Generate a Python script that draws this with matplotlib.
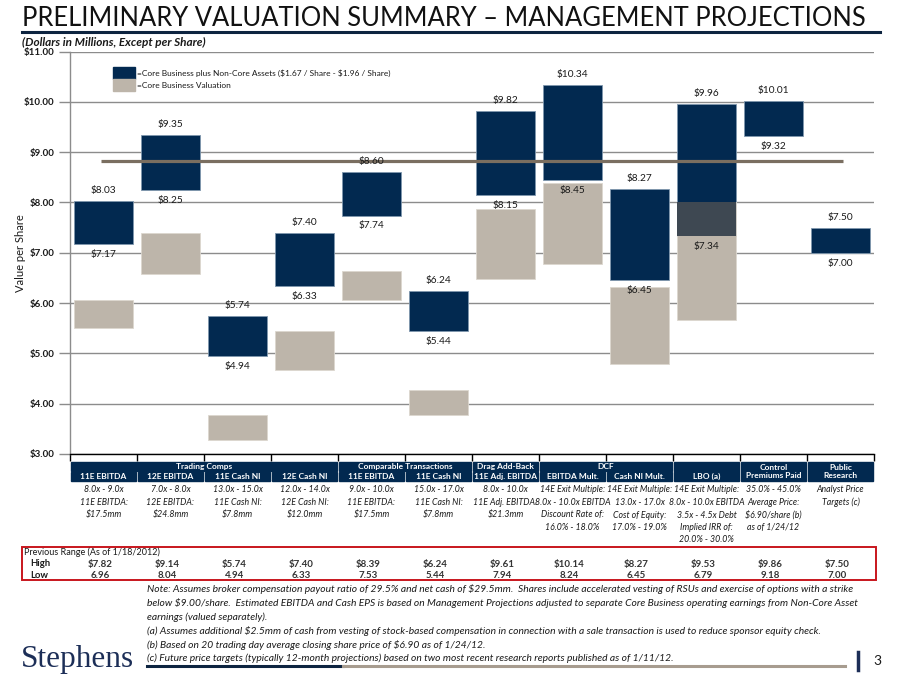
import matplotlib
matplotlib.use("Agg")
import matplotlib.pyplot as plt
from matplotlib.patches import Rectangle
from matplotlib.transforms import blended_transform_factory
from matplotlib.lines import Line2D

plt.rcParams['font.family'] = ['Lato', 'DejaVu Sans']
plt.rcParams['text.parse_math'] = False

# ---------------- data ----------------
categories = ["11E EBITDA", "12E EBITDA", "11E Cash NI", "12E Cash NI", "11E EBITDA",
              "11E Cash NI", "11E Adj. EBITDA", "EBITDA Mult.", "Cash NI Mult.", "LBO",
              "Control Premiums Paid", "Public Research"]
total_low = [7.17, 8.25, 4.94, 6.33, 7.74, 5.44, 8.15, 8.45, 6.45, 7.34, 9.32, 7.00]
total_high = [8.03, 9.35, 5.74, 7.40, 8.60, 6.24, 9.82, 10.34, 8.27, 9.96, 10.01, 7.50]
core_low = [5.50, 6.58, 3.27, 4.66, 6.07, 3.77, 6.48, 6.78, 4.78, 5.67, None, None]
core_high = [6.07, 7.39, 3.78, 5.44, 6.64, 4.28, 7.86, 8.38, 6.31, 8.00, None, None]
reference_price = 8.83

prev_high = ["$7.82", "$9.14", "$5.74", "$7.40", "$8.39", "$6.24", "$9.61", "$10.14",
             "$8.27", "$9.53", "$9.86", "$7.50"]
prev_low = ["6.96", "8.04", "4.94", "6.33", "7.53", "5.44", "7.94", "8.24", "6.45",
            "6.79", "9.18", "7.00"]

group_headers = [(0, 3, "Trading Comps"), (4, 5, "Comparable Transactions"),
                 (6, 6, "Drag Add-Back"), (7, 8, "DCF")]
sub_headers = ["11E EBITDA", "12E EBITDA", "11E Cash NI", "12E Cash NI", "11E EBITDA",
               "11E Cash NI", "11E Adj. EBITDA", "EBITDA Mult.", "Cash NI Mult."]
tall_headers = {9: "LBO (a)", 10: "Control\nPremiums Paid", 11: "Public\nResearch"}
descriptions = [
    ["8.0x - 9.0x", "11E EBITDA:", "$17.5mm"],
    ["7.0x - 8.0x", "12E EBITDA:", "$24.8mm"],
    ["13.0x - 15.0x", "11E Cash NI:", "$7.8mm"],
    ["12.0x - 14.0x", "12E Cash NI:", "$12.0mm"],
    ["9.0x - 10.0x", "11E EBITDA:", "$17.5mm"],
    ["15.0x - 17.0x", "11E Cash NI:", "$7.8mm"],
    ["8.0x - 10.0x", "11E Adj. EBITDA:", "$21.3mm"],
    ["14E Exit Multiple:", "8.0x - 10.0x EBITDA", "Discount Rate of:", "16.0% - 18.0%"],
    ["14E Exit Multiple:", "13.0x - 17.0x", "Cost of Equity:", "17.0% - 19.0%"],
    ["14E Exit Multiple:", "8.0x - 10.0x EBITDA", "3.5x - 4.5x Debt", "Implied IRR of:", "20.0% - 30.0%"],
    ["35.0% - 45.0%", "Average Price:", "$6.90/share (b)", "as of 1/24/12"],
    ["Analyst Price", "Targets (c)"],
]
yticks = [3, 4, 5, 6, 7, 8, 9, 10, 11]

notes = [
    "Note: Assumes broker compensation payout ratio of 29.5% and net cash of $29.5mm.  Shares include accelerated vesting of RSUs and exercise of options with a strike",
    "below $9.00/share.  Estimated EBITDA and Cash EPS is based on Management Projections adjusted to separate Core Business operating earnings from Non-Core Asset",
    "earnings (valued separately).",
    "(a) Assumes additional $2.5mm of cash from vesting of stock-based compensation in connection with a sale transaction is used to reduce sponsor equity check.",
    "(b) Based on 20 trading day average closing share price of $6.90 as of 1/24/12.",
    "(c) Future price targets (typically 12-month projections) based on two most recent research reports published as of 1/11/12.",
]

NAVY = '#022950'
TAN = '#BDB5AA'
OVERLAP = '#3E4852'
LINEC = '#7A6E60'
GRID = '#8C8C8C'
TXT = '#1A1A1A'

W, H = 900, 677
fig = plt.figure(figsize=(9, 6.77), dpi=100)

def fx(px):
    return px / W

def fy(py):
    return 1 - py / H

ax = fig.add_axes([fx(70), fy(454), fx(874) - fx(70), fy(51.5) - fy(454)])
ax.set_xlim(-0.5, 11.5)
ax.set_ylim(3, 11)
ax.set_yticks(yticks)
ax.set_yticklabels([f"${v:.2f}" for v in yticks], fontsize=7, fontweight='bold', color=TXT)
ax.set_xticks([i - 0.5 for i in range(13)])
ax.set_xticklabels([])
ax.tick_params(axis='x', length=5, width=1, color='black', direction='out')
ax.tick_params(axis='y', length=8, width=1, color=GRID, pad=3)
ax.grid(axis='y', color=GRID, lw=1)
ax.set_axisbelow(True)
for s in ['top', 'right']:
    ax.spines[s].set_visible(False)
ax.spines['left'].set_color(GRID)
ax.spines['left'].set_linewidth(1)
ax.spines['bottom'].set_color('black')
ax.spines['bottom'].set_linewidth(1)
ax.set_ylabel("Value per Share", fontsize=8, color=TXT)
ax.yaxis.set_label_coords((26 - 70) / 804, 0.5)

bw = 0.88
for i in range(len(categories)):
    lo, hi = total_low[i], total_high[i]
    ax.bar(i, hi - lo, bottom=lo, width=bw, color=NAVY, edgecolor='#7F97AE', lw=0.6, zorder=3)
    if core_low[i] is not None:
        clo, chi = core_low[i], core_high[i]
        ax.bar(i, chi - clo, bottom=clo, width=bw, color=TAN, edgecolor='#DCD7CF', lw=0.6, zorder=3)
        olo, ohi = max(lo, clo), min(hi, chi)
        if ohi > olo:
            ax.bar(i, ohi - olo, bottom=olo, width=bw, color=OVERLAP, lw=0, zorder=4)
    ax.annotate(f"${hi:.2f}", xy=(i, hi), xytext=(0, 7.5), textcoords='offset points',
                ha='center', va='center', fontsize=7.3, color=TXT, zorder=6)
    ax.annotate(f"${lo:.2f}", xy=(i, lo), xytext=(0, -7.5), textcoords='offset points',
                ha='center', va='center', fontsize=7.3, color=TXT, zorder=6)

ax.plot([-0.04, 11.04], [reference_price, reference_price], color=LINEC, lw=2.3, zorder=5,
        solid_capstyle='butt')

# legend
fig.patches.append(Rectangle((fx(113), fy(79)), fx(135) - fx(113), fy(67) - fy(79),
                             transform=fig.transFigure, color=NAVY))
fig.patches.append(Rectangle((fx(113), fy(91)), fx(135) - fx(113), fy(79) - fy(91),
                             transform=fig.transFigure, color=TAN))
fig.text(fx(137), fy(73), "=Core Business plus Non-Core Assets ($1.67 / Share - $1.96 / Share)",
         fontsize=6.0, va='center', ha='left', color=TXT)
fig.text(fx(137), fy(85.5), "=Core Business Valuation", fontsize=6.0, va='center', ha='left', color=TXT)

# title
fig.text(fx(22), fy(19), "PRELIMINARY VALUATION SUMMARY \u2013 MANAGEMENT PROJECTIONS",
         fontsize=18.4, ha='left', va='center', color='#111111')
fig.lines.append(Line2D([fx(22), fx(880)], [fy(32), fy(32)], transform=fig.transFigure,
                        color='#0D2440', lw=2.2))
fig.text(fx(22), fy(42), "(Dollars in Millions, Except per Share)", fontsize=8.5, style='italic',
         fontweight='bold', ha='left', va='center', color=TXT)

# header table
tr = blended_transform_factory(ax.transData, fig.transFigure)
g = 0.022
r1t, r1b = 462, 470.5
r2t, r2b = 472, 481
hfs = 6.0
for a, b, lab in group_headers:
    fig.patches.append(Rectangle((a - 0.5 + g, fy(r1b)), (b - a + 1) - 2 * g, fy(r1t) - fy(r1b),
                                 transform=tr, color=NAVY))
    fig.text((a + b) / 2, fy((r1t + r1b) / 2), lab, transform=tr, ha='center', va='center',
             fontsize=hfs, fontweight='bold', color='white')
for i, lab in enumerate(sub_headers):
    fig.patches.append(Rectangle((i - 0.5 + g, fy(r2b)), 1 - 2 * g, fy(r2t) - fy(r2b),
                                 transform=tr, color=NAVY))
    fig.text(i, fy((r2t + r2b) / 2), lab, transform=tr, ha='center', va='center',
             fontsize=hfs, fontweight='bold', color='white')
for i, lab in tall_headers.items():
    fig.patches.append(Rectangle((i - 0.5 + g, fy(r2b)), 1 - 2 * g, fy(r1t) - fy(r2b),
                                 transform=tr, color=NAVY))
    if "\n" in lab:
        fig.text(i, fy((r1t + r2b) / 2), lab, transform=tr, ha='center', va='center',
                 fontsize=hfs, fontweight='bold', color='white', linespacing=1.1)
    else:
        fig.text(i, fy((r2t + r2b) / 2), lab, transform=tr, ha='center', va='center',
                 fontsize=hfs, fontweight='bold', color='white')

desc_y = [490, 502.5, 515, 527.5, 540]
for i, lines in enumerate(descriptions):
    for k, line in enumerate(lines):
        fig.text(i, fy(desc_y[k]), line, transform=tr, ha='center', va='center',
                 fontsize=6.3, style='italic', color=TXT)

# previous range box
fig.patches.append(Rectangle((fx(22), fy(580)), fx(876) - fx(22), fy(547) - fy(580),
                             transform=fig.transFigure, fill=False, edgecolor='#C8161D', lw=1.4))
fig.text(fx(24), fy(552.5), "Previous Range (As of 1/18/2012)", fontsize=6.5, ha='left', va='center',
         color=TXT)
fig.text(fx(30), fy(564), "High", fontsize=6.8, fontweight='bold', ha='left', va='center', color=TXT)
fig.text(fx(30), fy(575), "Low", fontsize=6.8, fontweight='bold', ha='left', va='center', color=TXT)
for i in range(len(categories)):
    fig.text(i - 0.05, fy(564), prev_high[i], transform=tr, fontsize=7, fontweight='bold',
             ha='center', va='center', color='#333333')
    fig.text(i - 0.05, fy(575), prev_low[i], transform=tr, fontsize=7, fontweight='bold',
             ha='center', va='center', color='#333333')

# notes
note_y = [589.5, 603.5, 617.5, 631, 645, 658.5]
for y, line in zip(note_y, notes):
    fig.text(fx(147), fy(y), line, fontsize=7.4, style='italic', ha='left', va='center', color=TXT)

# footer
fig.text(fx(21), fy(659), "Stephens", fontsize=22.5, family=['Liberation Serif', 'DejaVu Serif'],
         ha='left', va='center', color='#1C2E57')
fig.lines.append(Line2D([fx(147), fx(343)], [fy(666), fy(666)], transform=fig.transFigure,
                        color='#0D2440', lw=2.2))
fig.lines.append(Line2D([fx(343), fx(845)], [fy(666), fy(666)], transform=fig.transFigure,
                        color='#A79C8F', lw=2.2))
fig.lines.append(Line2D([fx(858), fx(858)], [fy(652), fy(670)], transform=fig.transFigure,
                        color='#1C2E57', lw=2.5))
fig.text(fx(873), fy(661), "3", fontsize=10, ha='left', va='center', color=TXT)

fig.savefig("out.png", dpi=100)
